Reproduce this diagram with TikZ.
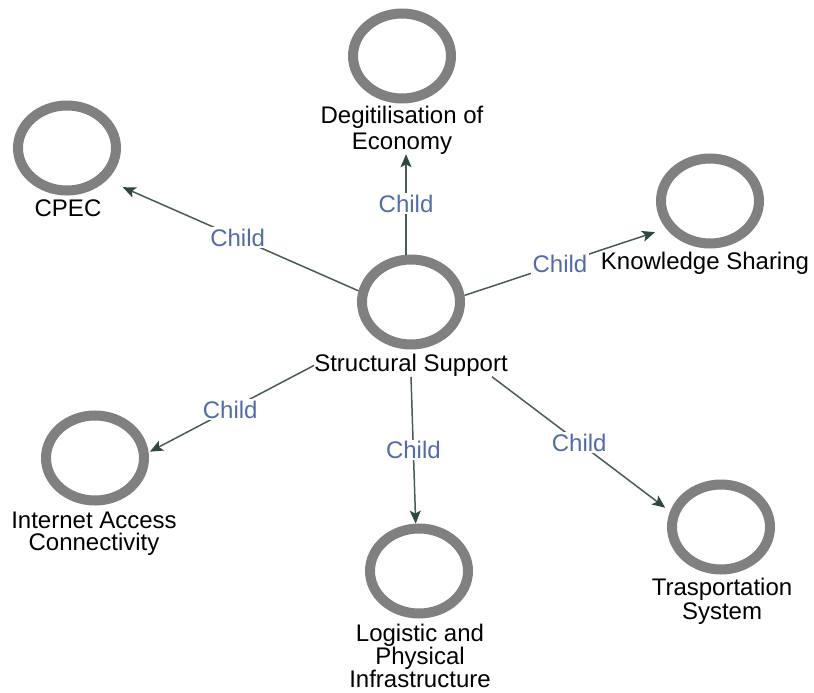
\documentclass[tikz,border=0pt]{standalone}
\usepackage{fontspec}
\setmainfont{Liberation Sans}
\usetikzlibrary{arrows.meta,shapes.geometric}
\definecolor{ringgray}{RGB}{128,128,128}
\definecolor{edgecol}{RGB}{72,92,86}
\definecolor{tipcol}{RGB}{45,72,66}
\definecolor{childblue}{RGB}{82,108,170}
\begin{document}
\begin{tikzpicture}[x=1pt,y=-1pt,
  ring/.style={draw=ringgray, line width=10pt, ellipse, minimum width=98pt, minimum height=85pt, inner sep=0pt},
  lbl/.style={font=\fontsize{24}{24}\selectfont, align=center, inner sep=0pt, anchor=north},
  edge/.style={draw=edgecol, line width=1.5pt, -{Stealth[length=13pt,width=11pt,inset=3pt,color=tipcol]}},
  childlbl/.style={font=\fontsize{24}{24}\selectfont, text=childblue, fill=white, inner sep=1.5pt}]
\useasboundingbox (0,0) rectangle (814,693);
% rings
\node[ring] (ss) at (411,302) {};
\node[ring] (de) at (402,56) {};
\node[ring] (cp) at (67,148) {};
\node[ring] (ks) at (710,201) {};
\node[ring] (ia) at (95,458) {};
\node[ring] (lp) at (419,571) {};
\node[ring] (ts) at (721,527) {};
% labels
\node[lbl] (sslbl) at (411,354) {Structural Support};
\node[lbl, font=\fontsize{24}{25.5}\selectfont] (delbl) at (402,106) {Degitilisation of\\Economy};
\node[lbl] (cplbl) at (68,200) {CPEC};
\node[lbl] (kslbl) at (705,252) {Knowledge Sharing};
\node[lbl, font=\fontsize{24}{22}\selectfont] (ialbl) at (94,512) {Internet Access\\Connectivity};
\node[lbl, font=\fontsize{24}{23}\selectfont] (lplbl) at (420,624) {Logistic and\\Physical\\Infrastructure};
\node[lbl] (tslbl) at (722,578) {Trasportation\\System};
% edges
\draw[edge] (ss.96) -- (ss.96 |- delbl.south) node[childlbl, pos=0.51] {Child};
\draw[edge, shorten >=17.5pt] (ss.168) -- (cp.-39) node[childlbl, pos=0.48] {Child};
\draw[edge, shorten >=11.5pt] (ss.7) -- (ks.212) node[childlbl, pos=0.474] {Child};
\draw[edge, shorten >=1.5pt] (sslbl.west) -- (ia.6) node[childlbl, pos=0.507] {Child};
\draw[edge] (sslbl.south) -- (lp.94) node[childlbl, pos=0.5] {Child};
\draw[edge, shorten >=6pt] (sslbl.-8) -- (ts.163) node[childlbl, pos=0.49] {Child};
\end{tikzpicture}
\end{document}
